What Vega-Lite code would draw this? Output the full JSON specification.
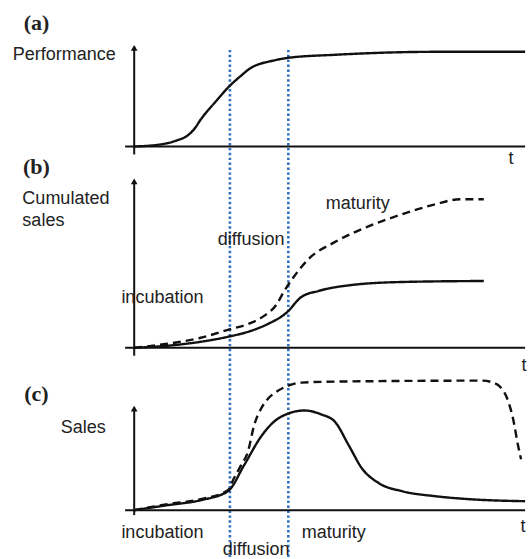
{
  "$schema": "https://vega.github.io/schema/vega-lite/v6.json",
  "autosize": {"type": "fit", "contains": "padding"},
  "width": 530,
  "height": 559,
  "padding": 0,
  "background": "white",
  "config": {"view": {"stroke": null}},
  "datasets": {
    "curves": [
      {"series": "a_perf", "style": "solid", "t": 0, "v": 412},
      {"series": "a_perf", "style": "solid", "t": 26, "v": 414},
      {"series": "a_perf", "style": "solid", "t": 42, "v": 418},
      {"series": "a_perf", "style": "solid", "t": 53, "v": 423},
      {"series": "a_perf", "style": "solid", "t": 60, "v": 430},
      {"series": "a_perf", "style": "solid", "t": 66, "v": 439},
      {"series": "a_perf", "style": "solid", "t": 80, "v": 456},
      {"series": "a_perf", "style": "solid", "t": 94, "v": 472},
      {"series": "a_perf", "style": "solid", "t": 106, "v": 483},
      {"series": "a_perf", "style": "solid", "t": 116, "v": 491},
      {"series": "a_perf", "style": "solid", "t": 125, "v": 495},
      {"series": "a_perf", "style": "solid", "t": 133, "v": 497},
      {"series": "a_perf", "style": "solid", "t": 153, "v": 501},
      {"series": "a_perf", "style": "solid", "t": 199, "v": 504},
      {"series": "a_perf", "style": "solid", "t": 299, "v": 507},
      {"series": "a_perf", "style": "solid", "t": 388, "v": 507},

      {"series": "b_solid", "style": "solid", "t": 0, "v": 210},
      {"series": "b_solid", "style": "solid", "t": 33, "v": 212},
      {"series": "b_solid", "style": "solid", "t": 66, "v": 216},
      {"series": "b_solid", "style": "solid", "t": 93, "v": 221},
      {"series": "b_solid", "style": "solid", "t": 116, "v": 227},
      {"series": "b_solid", "style": "solid", "t": 133, "v": 234},
      {"series": "b_solid", "style": "solid", "t": 151, "v": 245},
      {"series": "b_solid", "style": "solid", "t": 166, "v": 261},
      {"series": "b_solid", "style": "solid", "t": 183, "v": 267},
      {"series": "b_solid", "style": "solid", "t": 216, "v": 273},
      {"series": "b_solid", "style": "solid", "t": 266, "v": 276},
      {"series": "b_solid", "style": "solid", "t": 347, "v": 277},

      {"series": "b_dash", "style": "dashed", "t": 0, "v": 210},
      {"series": "b_dash", "style": "dashed", "t": 33, "v": 214},
      {"series": "b_dash", "style": "dashed", "t": 66, "v": 220},
      {"series": "b_dash", "style": "dashed", "t": 93, "v": 228},
      {"series": "b_dash", "style": "dashed", "t": 116, "v": 235},
      {"series": "b_dash", "style": "dashed", "t": 129, "v": 242},
      {"series": "b_dash", "style": "dashed", "t": 141, "v": 253},
      {"series": "b_dash", "style": "dashed", "t": 149, "v": 267},
      {"series": "b_dash", "style": "dashed", "t": 159, "v": 282},
      {"series": "b_dash", "style": "dashed", "t": 173, "v": 299},
      {"series": "b_dash", "style": "dashed", "t": 199, "v": 316},
      {"series": "b_dash", "style": "dashed", "t": 233, "v": 332},
      {"series": "b_dash", "style": "dashed", "t": 266, "v": 344},
      {"series": "b_dash", "style": "dashed", "t": 299, "v": 354},
      {"series": "b_dash", "style": "dashed", "t": 323, "v": 359},
      {"series": "b_dash", "style": "dashed", "t": 347, "v": 359},

      {"series": "c_solid", "style": "solid", "t": 0, "v": 47},
      {"series": "c_solid", "style": "solid", "t": 33, "v": 52},
      {"series": "c_solid", "style": "solid", "t": 66, "v": 57},
      {"series": "c_solid", "style": "solid", "t": 93, "v": 66},
      {"series": "c_solid", "style": "solid", "t": 109, "v": 92},
      {"series": "c_solid", "style": "solid", "t": 126, "v": 121},
      {"series": "c_solid", "style": "solid", "t": 139, "v": 136},
      {"series": "c_solid", "style": "solid", "t": 153, "v": 144},
      {"series": "c_solid", "style": "solid", "t": 169, "v": 147},
      {"series": "c_solid", "style": "solid", "t": 186, "v": 143},
      {"series": "c_solid", "style": "solid", "t": 199, "v": 136},
      {"series": "c_solid", "style": "solid", "t": 213, "v": 112},
      {"series": "c_solid", "style": "solid", "t": 226, "v": 89},
      {"series": "c_solid", "style": "solid", "t": 243, "v": 74},
      {"series": "c_solid", "style": "solid", "t": 266, "v": 66},
      {"series": "c_solid", "style": "solid", "t": 299, "v": 61},
      {"series": "c_solid", "style": "solid", "t": 333, "v": 58},
      {"series": "c_solid", "style": "solid", "t": 388, "v": 56},

      {"series": "c_dash", "style": "dashed", "t": 0, "v": 47},
      {"series": "c_dash", "style": "dashed", "t": 33, "v": 53},
      {"series": "c_dash", "style": "dashed", "t": 66, "v": 58},
      {"series": "c_dash", "style": "dashed", "t": 93, "v": 67},
      {"series": "c_dash", "style": "dashed", "t": 99, "v": 79},
      {"series": "c_dash", "style": "dashed", "t": 106, "v": 92},
      {"series": "c_dash", "style": "dashed", "t": 113, "v": 106},
      {"series": "c_dash", "style": "dashed", "t": 119, "v": 132},
      {"series": "c_dash", "style": "dashed", "t": 126, "v": 149},
      {"series": "c_dash", "style": "dashed", "t": 133, "v": 159},
      {"series": "c_dash", "style": "dashed", "t": 143, "v": 167},
      {"series": "c_dash", "style": "dashed", "t": 153, "v": 172},
      {"series": "c_dash", "style": "dashed", "t": 166, "v": 175},
      {"series": "c_dash", "style": "dashed", "t": 199, "v": 176},
      {"series": "c_dash", "style": "dashed", "t": 346, "v": 177},
      {"series": "c_dash", "style": "dashed", "t": 356, "v": 175},
      {"series": "c_dash", "style": "dashed", "t": 363, "v": 171},
      {"series": "c_dash", "style": "dashed", "t": 369, "v": 162},
      {"series": "c_dash", "style": "dashed", "t": 376, "v": 139},
      {"series": "c_dash", "style": "dashed", "t": 381, "v": 112},
      {"series": "c_dash", "style": "dashed", "t": 384, "v": 98}
    ],
    "axes": [
      {"panel": "a", "t1": 0, "t2": 0, "v1": 404, "v2": 512},
      {"panel": "a", "t1": -9, "t2": 388, "v1": 412, "v2": 412},
      {"panel": "b", "t1": 0, "t2": 0, "v1": 202, "v2": 378},
      {"panel": "b", "t1": -9, "t2": 388, "v1": 210, "v2": 210},
      {"panel": "c", "t1": 0, "t2": 0, "v1": 42, "v2": 150},
      {"panel": "c", "t1": -9, "t2": 388, "v1": 47, "v2": 47}
    ],
    "arrows": [
      {"panel": "a", "t": 0, "v": 511},
      {"panel": "b", "t": 0, "v": 377},
      {"panel": "c", "t": 0, "v": 149}
    ],
    "phases": [
      {"boundary": "incubation/diffusion", "t": 95, "v1": 0, "v2": 509},
      {"boundary": "diffusion/maturity", "t": 153, "v1": 0, "v2": 509}
    ],
    "labels": [
      {"kind": "tag", "text": "(a)", "t": -97, "v": 536},
      {"kind": "tag", "text": "(b)", "t": -97, "v": 391},
      {"kind": "tag", "text": "(c)", "t": -97, "v": 164},
      {"kind": "title", "text": "Performance", "t": -120.5, "v": 504},
      {"kind": "title", "text": "Cumulated", "t": -111, "v": 359},
      {"kind": "title", "text": "sales", "t": -111, "v": 337},
      {"kind": "title", "text": "Sales", "t": -73, "v": 129},
      {"kind": "phase", "text": "maturity", "t": 222, "v": 354},
      {"kind": "phase", "text": "diffusion", "t": 116, "v": 318},
      {"kind": "phase", "text": "incubation", "t": 28, "v": 260},
      {"kind": "phase", "text": "incubation", "t": 28, "v": 24},
      {"kind": "phase", "text": "maturity", "t": 198, "v": 24},
      {"kind": "phase", "text": "diffusion", "t": 121, "v": 7},
      {"kind": "phase", "text": "t", "t": 374, "v": 399},
      {"kind": "phase", "text": "t", "t": 387, "v": 192},
      {"kind": "phase", "text": "t", "t": 386, "v": 30}
    ]
  },
  "encoding": {
    "x": {"type": "quantitative", "scale": {"domain": [-133.2, 387.9], "nice": false, "zero": false}, "axis": null},
    "y": {"type": "quantitative", "scale": {"domain": [0, 559], "nice": false, "zero": false}, "axis": null}
  },
  "layer": [
    {
      "data": {"name": "phases"},
      "mark": {"type": "rule", "color": "#2f70c2", "strokeWidth": 2.6, "strokeDash": [2.4, 2.5]},
      "encoding": {
        "x": {"field": "t"},
        "y": {"field": "v1"},
        "y2": {"field": "v2"}
      }
    },
    {
      "data": {"name": "axes"},
      "mark": {"type": "rule", "color": "#111", "strokeWidth": 2},
      "encoding": {
        "x": {"field": "t1"},
        "x2": {"field": "t2"},
        "y": {"field": "v1"},
        "y2": {"field": "v2"}
      }
    },
    {
      "data": {"name": "arrows"},
      "mark": {"type": "point", "shape": "triangle-up", "filled": true, "color": "#111", "size": 45, "opacity": 1},
      "encoding": {
        "x": {"field": "t"},
        "y": {"field": "v"}
      }
    },
    {
      "data": {"name": "curves"},
      "mark": {"type": "line", "interpolate": "monotone", "color": "#111", "strokeWidth": 2.4},
      "encoding": {
        "x": {"field": "t"},
        "y": {"field": "v"},
        "detail": {"field": "series"},
        "strokeDash": {"field": "style", "type": "nominal", "scale": {"domain": ["solid", "dashed"], "range": [[1, 0], [8, 5]]}, "legend": null}
      }
    },
    {
      "data": {"name": "labels"},
      "transform": [{"filter": "datum.kind === 'tag'"}],
      "mark": {"type": "text", "font": "Liberation Serif", "fontWeight": "bold", "fontSize": 22, "align": "center", "baseline": "middle", "color": "#222"},
      "encoding": {"x": {"field": "t"}, "y": {"field": "v"}, "text": {"field": "text"}}
    },
    {
      "data": {"name": "labels"},
      "transform": [{"filter": "datum.kind === 'title'"}],
      "mark": {"type": "text", "font": "Liberation Sans", "fontSize": 18, "align": "left", "baseline": "middle", "color": "#222"},
      "encoding": {"x": {"field": "t"}, "y": {"field": "v"}, "text": {"field": "text"}}
    },
    {
      "data": {"name": "labels"},
      "transform": [{"filter": "datum.kind === 'phase'"}],
      "mark": {"type": "text", "font": "Liberation Sans", "fontSize": 18, "align": "center", "baseline": "middle", "color": "#222"},
      "encoding": {"x": {"field": "t"}, "y": {"field": "v"}, "text": {"field": "text"}}
    }
  ]
}
